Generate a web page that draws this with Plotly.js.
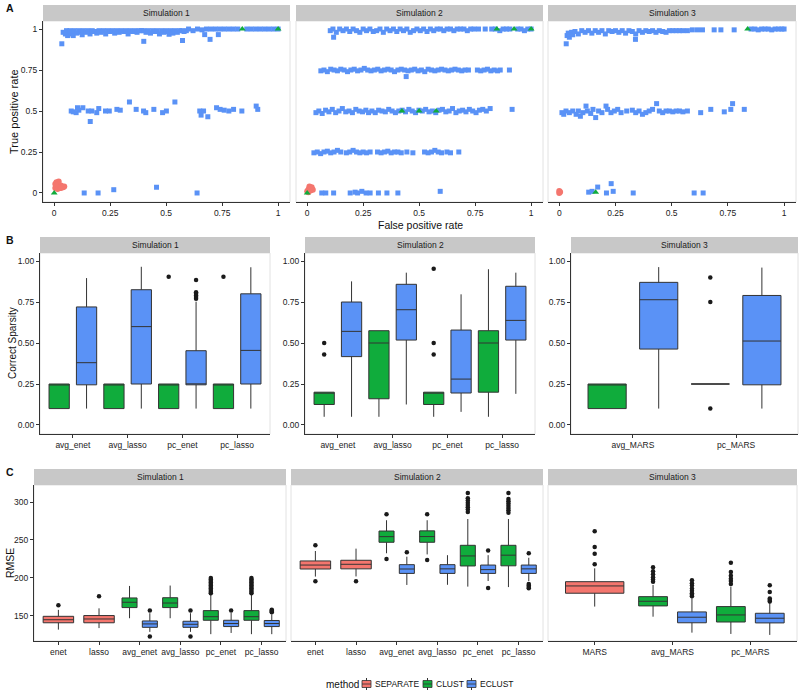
<!DOCTYPE html>
<html><head><meta charset="utf-8">
<script src="https://cdn.plot.ly/plotly-3.0.1.min.js"></script>
<style>html,body{margin:0;padding:0;background:#fff}#chart{width:800px;height:700px}</style>
</head><body><div id="chart"></div>
<script>
// ---------------- DATA ----------------
const strips = ['Simulation 1','Simulation 2','Simulation 3'];
const methods = ['SEPARATE','CLUST','ECLUST'];
const aTickVals = [0,0.25,0.5,0.75,1];
const aTickText = ['0','0.25','0.5','0.75','1'];
const bTickVals = [0,0.25,0.5,0.75,1];
const bTickText = ['0.00','0.25','0.50','0.75','1.00'];
const cTickVals = [150,200,250,300];

// Panel A: [false positive rate, true positive rate]
const a1_eclust = [
 [0.04,0.98],[0.05,0.97],[0.055,0.99],[0.06,0.96],[0.065,0.98],[0.07,0.99],[0.075,0.97],[0.08,0.985],[0.085,0.96],[0.09,0.99],
 [0.10,0.975],[0.11,0.99],[0.12,0.98],[0.125,0.965],[0.13,0.99],[0.14,0.98],[0.15,0.99],[0.16,0.97],[0.17,0.99],[0.18,0.985],
 [0.19,0.975],[0.20,0.99],[0.21,0.98],[0.22,0.99],[0.23,0.97],[0.24,0.99],[0.25,0.985],[0.26,0.99],[0.27,0.975],[0.28,0.99],
 [0.29,0.98],[0.30,0.99],[0.31,0.985],[0.32,0.99],[0.33,0.97],[0.34,0.99],[0.35,0.985],[0.36,0.99],[0.37,0.98],[0.38,0.99],
 [0.39,0.99],[0.40,0.99],[0.41,0.98],[0.42,0.99],[0.43,0.975],[0.44,0.99],[0.45,0.985],[0.46,0.99],[0.47,0.97],[0.48,0.99],
 [0.49,0.98],[0.50,0.99],[0.51,0.985],[0.52,0.99],[0.53,0.975],[0.54,0.99],[0.55,0.98],[0.56,0.99],[0.57,0.99],[0.58,0.985],
 [0.59,0.99],[0.60,1.0],[0.62,0.99],[0.64,1.0],[0.66,0.995],[0.68,1.0],[0.70,1.0],[0.72,1.0],[0.74,1.0],[0.76,1.0],
 [0.78,1.0],[0.80,1.0],[0.82,1.0],[0.86,1.0],[0.88,1.0],[0.90,1.0],[0.92,1.0],[0.94,1.0],[0.96,1.0],[0.98,1.0],[1.0,1.0],
 [0.034,0.91],[0.40,0.925],[0.573,0.93],[0.696,0.937],[0.672,0.966],[0.733,0.966],[0.513,0.968],
 [0.076,0.50],[0.085,0.495],[0.098,0.49],[0.104,0.52],[0.110,0.505],[0.128,0.52],[0.152,0.50],[0.161,0.436],[0.168,0.50],[0.190,0.49],
 [0.199,0.515],[0.229,0.50],[0.246,0.50],[0.280,0.51],[0.295,0.505],[0.336,0.555],[0.366,0.51],[0.399,0.50],[0.409,0.49],[0.445,0.51],
 [0.484,0.49],[0.501,0.50],[0.539,0.555],[0.650,0.50],[0.656,0.475],[0.667,0.50],[0.686,0.465],[0.725,0.52],[0.741,0.51],[0.759,0.505],
 [0.780,0.50],[0.801,0.51],[0.838,0.50],[0.902,0.53],[0.909,0.51],
 [0.134,0],[0.196,0],[0.266,0.02],[0.457,0.035],[0.638,0]
];
const a1_sep = [[0.005,0.03],[0.01,0.05],[0.015,0.06],[0.02,0.04],[0.025,0.03],[0.03,0.045],[0.035,0.04],[0.01,0.065],[0.02,0.07],[0.005,0.055],[0.04,0.035],[0.045,0.04],[0.015,0.025],[0.03,0.03]];
const a1_clust = [[0,0],[0.84,1],[1,1]];

const a2_eclust = [
 [0.103,0.99],[0.115,1],[0.13,0.98],[0.145,1],[0.16,0.99],[0.175,1],[0.19,0.985],[0.205,1],[0.22,0.99],[0.235,0.98],
 [0.25,1],[0.265,0.99],[0.28,1],[0.295,0.985],[0.31,0.99],[0.325,1],[0.34,0.98],[0.355,1],[0.37,0.99],[0.385,1],
 [0.40,0.985],[0.415,1],[0.43,0.99],[0.445,1],[0.46,0.98],[0.475,0.99],[0.49,1],[0.505,0.99],[0.52,1],[0.535,0.985],
 [0.55,1],[0.565,0.99],[0.58,1],[0.595,1],[0.61,0.99],[0.625,1],[0.64,1],[0.655,0.99],[0.67,1],[0.685,1],
 [0.70,1],[0.715,0.99],[0.73,1],[0.745,1],[0.765,1],[0.795,1],[0.824,1],[0.84,1],[0.86,0.99],[0.875,1],
 [0.89,1],[0.905,1],[0.94,1],[0.955,1],[0.97,0.99],[0.985,1],[1.0,1],[0.118,0.95],
 [0.061,0.745],[0.075,0.75],[0.09,0.74],[0.105,0.755],[0.12,0.75],[0.135,0.745],[0.15,0.755],[0.165,0.75],[0.18,0.74],[0.195,0.75],
 [0.21,0.755],[0.225,0.745],[0.24,0.75],[0.255,0.76],[0.27,0.75],[0.285,0.745],[0.30,0.75],[0.315,0.755],[0.33,0.745],[0.345,0.75],
 [0.36,0.755],[0.375,0.75],[0.39,0.74],[0.405,0.75],[0.42,0.755],[0.435,0.75],[0.45,0.745],[0.465,0.75],[0.48,0.755],[0.495,0.745],
 [0.51,0.75],[0.525,0.74],[0.54,0.755],[0.555,0.75],[0.57,0.745],[0.585,0.75],[0.60,0.755],[0.615,0.75],[0.63,0.745],[0.645,0.75],
 [0.66,0.755],[0.675,0.75],[0.69,0.745],[0.705,0.75],[0.72,0.75],[0.76,0.75],[0.775,0.745],[0.79,0.75],[0.805,0.755],[0.82,0.745],
 [0.835,0.75],[0.85,0.745],[0.862,0.75],[0.903,0.75],[0.442,0.71],
 [0.039,0.49],[0.052,0.50],[0.067,0.485],[0.082,0.505],[0.097,0.495],[0.112,0.51],[0.127,0.49],[0.142,0.50],[0.157,0.515],[0.172,0.495],
 [0.187,0.50],[0.202,0.49],[0.217,0.51],[0.232,0.50],[0.247,0.495],[0.262,0.505],[0.274,0.49],[0.289,0.50],[0.304,0.49],[0.319,0.505],
 [0.334,0.50],[0.349,0.495],[0.364,0.51],[0.379,0.50],[0.394,0.49],[0.409,0.50],[0.424,0.505],[0.439,0.495],[0.454,0.51],[0.469,0.50],
 [0.484,0.49],[0.499,0.505],[0.514,0.50],[0.529,0.51],[0.544,0.495],[0.559,0.50],[0.574,0.49],[0.589,0.505],[0.604,0.51],[0.619,0.495],
 [0.634,0.50],[0.649,0.515],[0.664,0.49],[0.679,0.50],[0.694,0.505],[0.709,0.495],[0.724,0.51],[0.739,0.50],[0.754,0.49],[0.769,0.505],
 [0.784,0.51],[0.80,0.50],[0.817,0.515],[0.915,0.51],
 [0.03,0.245],[0.045,0.25],[0.06,0.24],[0.075,0.25],[0.09,0.255],[0.105,0.245],[0.12,0.25],[0.135,0.26],[0.15,0.25],[0.175,0.245],
 [0.19,0.25],[0.205,0.26],[0.22,0.25],[0.235,0.245],[0.25,0.25],[0.265,0.245],[0.281,0.25],[0.314,0.25],[0.33,0.245],[0.345,0.25],
 [0.36,0.255],[0.375,0.245],[0.39,0.25],[0.405,0.25],[0.42,0.245],[0.445,0.25],[0.472,0.245],[0.524,0.25],[0.54,0.245],[0.555,0.25],
 [0.57,0.26],[0.585,0.25],[0.60,0.245],[0.624,0.25],[0.64,0.245],[0.677,0.25],
 [0.065,0],[0.083,0],[0.118,0],[0.192,0],[0.214,0.005],[0.225,0],[0.244,0.01],[0.263,0],[0.281,0],[0.318,0],[0.356,0],[0.405,0],[0.594,0.01]
];
const a2_sep = [[0.005,0.02],[0.01,0.03],[0.015,0.015],[0.02,0.025],[0.0,0.01],[0.025,0.02],[0.01,0.04],[0.005,0.005],[0.02,0.035],[0.015,0.03]];
const a2_clust = [[0,0],[0.423,0.5],[0.5,0.5],[0.576,0.5],[0.847,1],[0.924,1],[1,1]];

const a3_eclust = [
 [0.035,0.96],[0.04,0.975],[0.045,0.95],[0.05,0.97],[0.055,0.98],[0.06,0.965],[0.07,0.985],[0.085,0.97],[0.10,0.99],[0.115,0.98],
 [0.13,0.99],[0.145,0.975],[0.16,0.99],[0.175,0.98],[0.19,0.99],[0.205,0.97],[0.22,0.99],[0.235,0.985],[0.25,0.99],[0.265,0.98],
 [0.28,0.99],[0.295,0.975],[0.31,0.99],[0.325,0.985],[0.34,0.97],[0.355,0.99],[0.37,0.98],[0.385,0.99],[0.40,0.985],[0.415,0.99],
 [0.43,0.98],[0.445,0.99],[0.46,0.985],[0.475,0.98],[0.49,0.99],[0.505,0.99],[0.52,0.99],[0.535,0.99],[0.55,0.99],[0.57,0.99],
 [0.592,0.995],[0.615,0.995],[0.637,0.995],[0.689,0.995],[0.719,0.995],[0.778,0.995],
 [0.853,1],[0.87,1],[0.885,0.995],[0.90,1],[0.915,1],[0.93,1],[0.945,0.995],[0.96,1],[0.975,1],[0.99,1],[1.0,1],
 [0.031,0.91],[0.339,0.937],
 [0.012,0.49],[0.02,0.48],[0.03,0.50],[0.045,0.49],[0.06,0.50],[0.075,0.48],[0.085,0.50],[0.094,0.468],[0.105,0.49],[0.119,0.53],
 [0.125,0.50],[0.14,0.485],[0.15,0.51],[0.162,0.46],[0.175,0.50],[0.19,0.49],[0.208,0.53],[0.215,0.51],[0.23,0.49],[0.245,0.50],
 [0.26,0.51],[0.275,0.49],[0.30,0.50],[0.325,0.505],[0.34,0.49],[0.355,0.50],[0.37,0.48],[0.385,0.49],[0.40,0.50],[0.415,0.51],
 [0.433,0.545],[0.445,0.50],[0.46,0.49],[0.475,0.50],[0.49,0.50],[0.505,0.495],[0.52,0.50],[0.535,0.50],[0.55,0.495],[0.57,0.50],
 [0.629,0.49],[0.674,0.51],[0.734,0.495],[0.763,0.51],[0.771,0.545],[0.823,0.51],
 [0.131,0.005],[0.146,0.01],[0.171,0.036],[0.21,0],[0.231,0.057],[0.24,0.01],[0.329,0],[0.6,0],[0.64,0]
];
const a3_sep = [[0,0],[0,0.012],[0.004,0.006]];
const a3_clust = [[0.162,0.005],[0.838,1]];

// Panel B: per category [lower whisker, q1, median, q3, upper whisker]
const b1_cats = ['avg_enet','avg_lasso','pc_enet','pc_lasso'];
const b1_clust = [[0.1,0.1,0.25,0.25,0.25],[0.1,0.1,0.25,0.25,0.25],[0.1,0.1,0.25,0.25,0.25],[0.1,0.1,0.25,0.25,0.25]];
const b1_clust_out = [[],[],[0.904],[0.904]];
const b1_eclust = [[0.1,0.245,0.38,0.72,0.896],[0.1,0.25,0.6,0.825,0.965],[0.1,0.245,0.245,0.453,0.752],[0.1,0.25,0.455,0.80,0.962]];
const b1_eclust_out = [[],[],[0.884,0.81,0.80,0.79,0.78,0.77],[]];

const b2_cats = ['avg_enet','avg_lasso','pc_enet','pc_lasso'];
const b2_clust = [[0.05,0.125,0.2,0.2,0.2],[0.05,0.16,0.5,0.575,0.575],[0.05,0.125,0.2,0.2,0.2],[0.05,0.2,0.5,0.575,0.95]];
const b2_clust_out = [[0.5,0.43],[],[0.953,0.5,0.43],[]];
const b2_eclust = [[0.05,0.417,0.571,0.75,0.876],[0.125,0.518,0.703,0.858,0.929],[0.08,0.195,0.28,0.579,0.797],[0.19,0.518,0.638,0.846,0.929]];
const b2_eclust_out = [[],[],[],[]];

const b3_cats = ['avg_MARS','pc_MARS'];
const b3_clust = [[0.1,0.1,0.25,0.25,0.25],[0.25,0.25,0.25,0.25,0.25]];
const b3_clust_out = [[],[0.9,0.75,0.1]];
const b3_eclust = [[0.1,0.463,0.764,0.87,0.963],[0.1,0.245,0.512,0.79,0.96]];
const b3_eclust_out = [[],[]];

// Panel C: RMSE
const c1_cats = ['enet','lasso','avg_enet','avg_lasso','pc_enet','pc_lasso'];
const c1_sep = [[132,141,145,149.5,158],[134,141,146,150.5,160],null,null,null,null];
const c1_sep_out = [[164],[176],[],[],[],[]];
const c1_clust = [null,null,[147,161,168,173.7,189.5],[147,161,167,174,190],[126,144.3,149,157,178],[126,144.3,149,157,178]];
const c1_clust_out = [[],[],[],[],[180,182,184,186,188,190,192,194,196,198,200],[180,182,184,186,188,190,192,194,196,198,200]];
const c1_eclust = [null,null,[129,135,139.5,143.4,153.6],[129,135,139,143,153.6],[127.6,136,140,144.3,154],[126,136,140,144,152]];
const c1_eclust_out = [[],[],[157,123],[157,123],[157],[155,156,157,158]];

const c2_cats = ['enet','lasso','avg_enet','avg_lasso','pc_enet','pc_lasso'];
const c2_sep = [[201.8,211.8,217,222.4,235.5],[202,212,218,223.3,238.6],null,null,null,null];
const c2_sep_out = [[243,195.6],[195.6],[],[],[],[]];
const c2_clust = [null,null,[232.5,247,254.4,261.8,276],[231,247,254.5,262,276],[188.6,215.8,229,243,277.6],[188,216,230,243,277.6]];
const c2_clust_out = [[],[],[284,225],[284,223.7],[312,305,302,299,296,293,290,287],[312,304,301,298,295,292,289,286]];
const c2_eclust = [null,null,[190.8,206,211.8,217.5,228],[191,206,212,217.5,230],[196,206,211,217,230],[196,206,212,217,226.6]];
const c2_eclust_out = [[],[],[234],[],[236,186.8],[232.5,192,190,188,186.4]];

const c3_cats = ['MARS','avg_MARS','pc_MARS'];
const c3_sep = [[162.3,179.9,189.5,195.1,212.7],null,null];
const c3_sep_out = [[218,232,240.8,261.4],[],[]];
const c3_clust = [null,[149,163.2,169.3,175.4,190.8],[126.3,142,151.3,162.3,188.6]];
const c3_clust_out = [[],[195,198,201,205,209,214],[192,196,199,203,208,220]];
const c3_eclust = [null,[128,141,148.3,155.3,173.3],[125,140.8,147,153.5,167.5]];
const c3_eclust_out = [[],[176,178,180,183,186,190,193,197],[169,171,173,181.6,190.4]];

// ---------------- STYLE / LAYOUT ----------------
const FONT = 'Liberation Sans, Arial, Helvetica, sans-serif';
const COL = {SEPARATE:'#F4766E', CLUST:'#10AC3C', ECLUST:'#5A92F6'};
const W = 800, H = 700, STRIP = 16;
const fx = p => p / W;
const fy = p => 1 - p / H;

const panels = [
  {xr:[43,290],  yr:[21,202]},
  {xr:[296,543], yr:[21,202]},
  {xr:[548,796], yr:[21,202]},
  {xr:[40,270],  yr:[253,434]},
  {xr:[305,535], yr:[253,434]},
  {xr:[571,798], yr:[253,434]},
  {xr:[34,286],  yr:[485,641]},
  {xr:[291,543], yr:[485,641]},
  {xr:[548,797], yr:[485,641]}
];

const layout = {
  width: W, height: H,
  margin: {l:0, r:0, t:0, b:0},
  paper_bgcolor: '#ffffff', plot_bgcolor: 'rgba(0,0,0,0)',
  font: {family: FONT, size: 9, color: '#222'},
  showlegend: false,
  shapes: [], annotations: []
};
const traces = [];

function axBase() {
  return {showgrid:false, zeroline:false, ticks:'outside', ticklen:3, tickwidth:1, tickcolor:'#333',
          showline:true, linecolor:'#333', linewidth:1, tickfont:{size:8.5, color:'#222'}, fixedrange:true};
}

panels.forEach((p, i) => {
  const k = i + 1;
  const xs = k === 1 ? 'xaxis' : 'xaxis' + k;
  const ys = k === 1 ? 'yaxis' : 'yaxis' + k;
  const xa = Object.assign(axBase(), {domain:[fx(p.xr[0]), fx(p.xr[1])], anchor: k === 1 ? 'y' : 'y' + k});
  const ya = Object.assign(axBase(), {domain:[fy(p.yr[1]), fy(p.yr[0])], anchor: k === 1 ? 'x' : 'x' + k});
  const row = Math.floor(i / 3), col = i % 3;
  if (row === 0) {
    xa.range = [-0.05, 1.053]; xa.tickvals = aTickVals; xa.ticktext = aTickText;
    ya.range = [-0.055, 1.049]; ya.tickvals = aTickVals; ya.ticktext = aTickText;
    if (col > 0) { ya.showticklabels = false; ya.ticks = ''; ya.showline = false; }
  } else if (row === 1) {
    const cats = [b1_cats, b2_cats, b3_cats][col];
    xa.range = [0.4, cats.length + 0.6]; xa.tickvals = cats.map((c, j) => j + 1); xa.ticktext = cats;
    ya.range = [-0.055, 1.049]; ya.tickvals = bTickVals; ya.ticktext = bTickText;
  } else {
    const cats = [c1_cats, c2_cats, c3_cats][col];
    xa.range = [0.4, cats.length + 0.6]; xa.tickvals = cats.map((c, j) => j + 1); xa.ticktext = cats;
    ya.range = [117, 322.4]; ya.tickvals = cTickVals;
    if (col > 0) { ya.showticklabels = false; ya.ticks = ''; ya.showline = false; }
  }
  layout[xs] = xa; layout[ys] = ya;
  layout.shapes.push({type:'rect', xref:'paper', yref:'paper', x0:fx(p.xr[0]), x1:fx(p.xr[1]), y0:fy(p.yr[1]), y1:fy(p.yr[0]),
    line:{color:'#E2E2E2', width:1}, fillcolor:'rgba(0,0,0,0)', layer:'below'});
  layout.shapes.push({type:'rect', xref:'paper', yref:'paper', x0:fx(p.xr[0]), x1:fx(p.xr[1]), y0:fy(p.yr[0]), y1:fy(p.yr[0] - STRIP),
    line:{width:0}, fillcolor:'#C8C8C8', layer:'below'});
  layout.annotations.push({xref:'paper', yref:'paper', x:fx((p.xr[0] + p.xr[1]) / 2), y:fy(p.yr[0] - STRIP / 2),
    text: strips[col], showarrow:false, xanchor:'center', yanchor:'middle', font:{size:8.5, color:'#1a1a1a'}});
});

// ---- Panel A scatter
const aData = [[a1_eclust, a1_sep, a1_clust], [a2_eclust, a2_sep, a2_clust], [a3_eclust, a3_sep, a3_clust]];
aData.forEach((d, i) => {
  const k = i + 1;
  const xa = k === 1 ? 'x' : 'x' + k, ya = k === 1 ? 'y' : 'y' + k;
  const mk = (pts, sym, size, col, name) => ({type:'scatter', mode:'markers', xaxis:xa, yaxis:ya, name:name,
    x: pts.map(q => q[0]), y: pts.map(q => q[1]), showlegend:false, hoverinfo:'skip',
    marker:{symbol:sym, size:size, color:col, line:{width:0}}});
  traces.push(mk(d[0], 'square', 5, COL.ECLUST, 'ECLUST'));
  traces.push(mk(d[1], 'circle', 6, COL.SEPARATE, 'SEPARATE'));
  traces.push(mk(d[2], 'triangle-up', 6, COL.CLUST, 'CLUST'));
});

// ---- Box panels
function addBoxPanel(k, cats, byMethod) {
  const xa = 'x' + k, ya = 'y' + k;
  cats.forEach((c, j) => {
    const present = methods.filter(m => byMethod[m] && byMethod[m][0][j]);
    const n = present.length;
    present.forEach((m, idx) => {
      const off = n === 1 ? 0 : (idx === 0 ? -0.25 : 0.25);
      const w = n === 1 ? 0.75 : 0.37;
      const s = byMethod[m][0][j];
      const pos = j + 1 + off;
      traces.push({type:'box', xaxis:xa, yaxis:ya, x:[pos], lowerfence:[s[0]], q1:[s[1]], median:[s[2]], q3:[s[3]], upperfence:[s[4]],
        width:w, fillcolor:COL[m], line:{color:'#333', width:1}, whiskerwidth:0, boxpoints:false,
        name:m, legendgroup:m, showlegend:false, hoverinfo:'skip'});
      const outs = byMethod[m][1][j];
      if (outs.length) traces.push({type:'scatter', mode:'markers', xaxis:xa, yaxis:ya, x:outs.map(() => pos), y:outs,
        marker:{size:4.5, color:'#1a1a1a'}, showlegend:false, hoverinfo:'skip'});
    });
  });
}
addBoxPanel(4, b1_cats, {CLUST:[b1_clust, b1_clust_out], ECLUST:[b1_eclust, b1_eclust_out]});
addBoxPanel(5, b2_cats, {CLUST:[b2_clust, b2_clust_out], ECLUST:[b2_eclust, b2_eclust_out]});
addBoxPanel(6, b3_cats, {CLUST:[b3_clust, b3_clust_out], ECLUST:[b3_eclust, b3_eclust_out]});
addBoxPanel(7, c1_cats, {SEPARATE:[c1_sep, c1_sep_out], CLUST:[c1_clust, c1_clust_out], ECLUST:[c1_eclust, c1_eclust_out]});
addBoxPanel(8, c2_cats, {SEPARATE:[c2_sep, c2_sep_out], CLUST:[c2_clust, c2_clust_out], ECLUST:[c2_eclust, c2_eclust_out]});
addBoxPanel(9, c3_cats, {SEPARATE:[c3_sep, c3_sep_out], CLUST:[c3_clust, c3_clust_out], ECLUST:[c3_eclust, c3_eclust_out]});

// ---- Titles and panel letters
const ann = (x, y, text, opts) => layout.annotations.push(Object.assign({xref:'paper', yref:'paper', x:fx(x), y:fy(y), text:text,
  showarrow:false, xanchor:'center', yanchor:'middle', font:{size:10.5, color:'#111'}}, opts || {}));
ann(10, 8, '<b>A</b>');
ann(10, 240, '<b>B</b>');
ann(10, 472, '<b>C</b>');
ann(14, 112, 'True positive rate', {textangle:-90, font:{size:11, color:'#111'}});
ann(420, 225, 'False positive rate', {font:{size:10.5, color:'#111'}});
ann(12, 343, 'Correct Sparsity', {textangle:-90, font:{size:10, color:'#111'}});
ann(10, 563, 'RMSE', {textangle:-90, font:{size:10.5, color:'#111'}});

// ---- Legend (method key with boxplot glyphs)
const LEG_Y = 684;
ann(324, LEG_Y, 'method', {xanchor:'left', font:{size:10, color:'#111'}});
const legItems = [{m:'SEPARATE', x:362}, {m:'CLUST', x:423}, {m:'ECLUST', x:467}];
legItems.forEach(it => {
  const cx = it.x + 4.5;
  layout.shapes.push({type:'line', xref:'paper', yref:'paper', x0:fx(cx), x1:fx(cx), y0:fy(LEG_Y - 6), y1:fy(LEG_Y + 6),
    line:{color:'#333', width:1}});
  layout.shapes.push({type:'rect', xref:'paper', yref:'paper', x0:fx(it.x), x1:fx(it.x + 9), y0:fy(LEG_Y - 3.5), y1:fy(LEG_Y + 3.5),
    fillcolor:COL[it.m], line:{color:'#333', width:0.8}});
  layout.shapes.push({type:'line', xref:'paper', yref:'paper', x0:fx(it.x), x1:fx(it.x + 9), y0:fy(LEG_Y), y1:fy(LEG_Y),
    line:{color:'#333', width:0.8}});
  ann(it.x + 11, LEG_Y, it.m, {xanchor:'left', font:{size:8.5, color:'#111'}});
});

Plotly.newPlot('chart', traces, layout, {staticPlot:true, displayModeBar:false});
</script>
</body></html>
